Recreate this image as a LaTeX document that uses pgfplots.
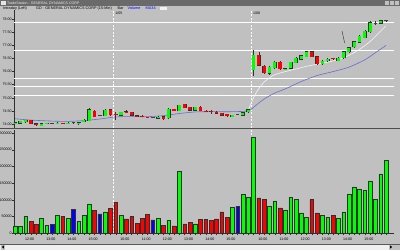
\documentclass[border=0pt]{standalone}
\usepackage{fontspec}
\setmainfont{Liberation Sans}
\usepackage{pgfplots}
\pgfplotsset{compat=1.18}
\usepackage{pgfplotstable}
\definecolor{bg}{HTML}{C0C0C0}
\definecolor{cgreen}{HTML}{00FF00}
\definecolor{cred}{HTML}{FF0000}
\definecolor{cblue}{HTML}{0000FF}
\definecolor{maline}{HTML}{6A6AD0}
\definecolor{titlebar}{HTML}{6A6A6A}
\definecolor{outl}{HTML}{303030}
\definecolor{doji}{HTML}{404040}
\newcommand\tf{\fontsize{3.8}{4.2}\selectfont}

\pgfplotstableread{
i o h l c
1 74.01 74.07 74.00 74.05
2 74.02 74.12 74.00 74.10
3 74.07 74.17 74.05 74.15
6 73.94 74.03 73.92 74.01
7 74.01 74.05 73.99 74.03
9 74.02 74.06 74.01 74.04
11 74.02 74.06 74.01 74.04
13 74.03 74.06 73.97 74.05
14 74.08 74.18 74.06 74.16
15 74.12 74.62 74.10 74.55
18 74.32 74.56 74.30 74.53
21 74.33 74.47 74.31 74.44
28 74.21 74.29 74.19 74.27
30 74.22 74.60 74.20 74.57
32 74.51 74.74 74.49 74.71
35 74.52 74.66 74.50 74.64
42 74.27 74.36 74.25 74.34
44 74.33 74.45 74.31 74.43
45 74.45 74.58 74.43 74.55
46 76.06 76.82 75.83 76.62
49 75.93 76.20 75.88 76.16
50 76.14 76.40 76.10 76.35
52 76.09 76.14 76.07 76.11
53 76.12 76.38 76.10 76.35
54 76.34 76.54 76.32 76.51
55 76.47 76.64 76.45 76.61
56 76.57 76.80 76.55 76.76
59 76.29 76.43 76.27 76.40
60 76.40 76.50 76.38 76.47
62 76.42 76.54 76.40 76.51
63 76.51 76.79 76.49 76.76
64 76.74 76.94 76.72 76.91
65 76.93 77.17 76.91 77.14
66 77.12 77.39 77.10 77.36
67 77.29 77.58 77.27 77.55
68 77.52 77.93 77.48 77.87
70 77.84 77.97 77.82 77.95
}\candG

\pgfplotstableread{
i o h l c
4 74.15 74.17 73.99 74.01
5 74.01 74.03 73.94 73.96
10 74.04 74.05 74.00 74.02
16 74.50 74.52 74.26 74.28
19 74.55 74.58 74.32 74.34
20 74.38 74.46 74.15 74.36
22 74.47 74.52 74.43 74.45
23 74.44 74.46 74.31 74.33
24 74.32 74.34 74.26 74.28
25 74.31 74.33 74.25 74.27
26 74.26 74.28 74.22 74.24
29 74.28 74.30 74.14 74.20
31 74.57 74.59 74.48 74.50
33 74.75 74.77 74.60 74.62
34 74.64 74.66 74.50 74.52
36 74.65 74.67 74.49 74.51
37 74.50 74.52 74.44 74.48
38 74.48 74.52 74.40 74.46
39 74.46 74.48 74.39 74.41
40 74.41 74.43 74.31 74.33
41 74.37 74.39 74.28 74.30
47 76.62 76.74 76.20 76.24
48 76.21 76.26 75.90 75.96
51 76.37 76.40 76.06 76.09
57 76.76 76.78 76.55 76.57
58 76.57 76.59 76.27 76.29
61 76.50 76.53 76.46 76.48
}\candR

\pgfplotstableread{
i o h l c
8 74.03 74.05 74.01 74.03
12 74.04 74.05 74.02 74.04
17 74.32 74.35 74.29 74.32
27 74.24 74.26 74.22 74.24
43 74.37 74.40 74.34 74.37
69 77.84 77.92 77.76 77.84
71 77.94 77.98 77.90 77.94
}\candD

\pgfplotstableread{
i v
1 22000
2 20000
3 50000
6 45000
7 23000
9 53000
11 45000
13 36000
14 54000
15 88000
18 64000
21 54000
28 45000
30 39000
32 186000
35 28000
42 77000
44 117000
45 108000
46 288000
49 82000
50 97000
52 70000
53 107000
54 101000
55 61000
56 48000
59 54000
60 48000
62 45000
63 64000
64 118000
65 139000
66 133000
67 129000
68 157000
69 102000
70 178000
71 219000
}\volG

\pgfplotstableread{
i v
4 36000
5 27000
10 51000
16 69000
19 74000
20 92000
22 43000
23 50000
24 30000
25 44000
26 56000
29 23000
31 22000
33 28000
34 32000
36 42000
37 42000
38 38000
39 43000
40 64000
41 48000
47 106000
48 102000
51 76000
57 101000
58 61000
61 54000
}\volR

\pgfplotstableread{
i v
8 26000
12 71000
17 58000
27 40000
43 81000
}\volB

\newcommand\wicks[1]{%
 \addplot[draw=none, mark=none, forget plot,
   error bars/.cd, y dir=plus, y explicit, error mark=none,
   error bar style={line width=0.5pt, draw=outl, line cap=butt}]
   table[x=i, y=l, y error plus expr={\thisrow{h}-\thisrow{l}}] {#1};}
\newcommand\bodies[3]{%
 \addplot[draw=none, mark=none, forget plot,
   error bars/.cd, y dir=plus, y explicit, error mark=none,
   error bar style={line width=#3, draw=#2, line cap=butt}]
   table[x=i, y expr={min(\thisrow{o},\thisrow{c})}, y error plus expr={max(abs(\thisrow{c}-\thisrow{o}),0.02)}] {#1};}
\newcommand\bodyoutline[1]{%
 \addplot[draw=none, mark=none, forget plot,
   error bars/.cd, y dir=plus, y explicit, error mark=none,
   error bar style={line width=3.8pt, draw=outl, line cap=butt}]
   table[x=i, y expr={min(\thisrow{o},\thisrow{c})-0.01}, y error plus expr={max(abs(\thisrow{c}-\thisrow{o}),0.02)+0.02}] {#1};}

\begin{document}
\begin{tikzpicture}[x=1pt,y=1pt]
\useasboundingbox (0,0) rectangle (400,250);
\fill[bg] (0,0) rectangle (400,250);
% title bar
\fill[titlebar] (0,244) rectangle (400,250);
\fill[white!80!gray] (1,245) rectangle (5.5,249.2);
\node[anchor=west, inner sep=0pt, font=\fontsize{3.6}{4}\selectfont, text=white!85!gray] at (7,247) {TradeStation - GENERAL DYNAMICS CORP};
\foreach \bx in {385,390,395}{\fill[bg] (\bx,245) rectangle (\bx+4,249.2);}
% header
\node[anchor=west, inner sep=0pt, font=\tf] at (3,241.5) {Intraday (Left)};
\node[anchor=west, inner sep=0pt, font=\tf] at (36,241.5) {GD - GENERAL DYNAMICS CORP (15-Min)};
\node[anchor=west, inner sep=0pt, font=\tf] at (117.5,241.5) {Bar};
\node[anchor=west, inner sep=0pt, font=\tf, text=cblue] at (127.5,241.5) {Volume};
\node[anchor=west, inner sep=0pt, font=\tf, text=cblue] at (145.5,241.5) {MA34};
\fill[white!90!gray] (160,240) rectangle (167,243);
% scroll bar
\fill[white!88!gray] (0,0) rectangle (400,6);
\draw[gray!70!black, line width=0.3pt] (0,6) -- (400,6);
\fill[bg] (0.5,0.5) rectangle (5,5.5);
\fill[black] (1.8,3) -- (3.8,4.5) -- (3.8,1.5) -- cycle;
\fill[bg] (389,0.5) rectangle (393.5,5.5);
\fill[black] (392.2,3) -- (390.2,4.5) -- (390.2,1.5) -- cycle;
\fill[bg] (394,0.5) rectangle (399.5,5.5);

% ===== price panel =====
\begin{axis}[at={(14pt,122pt)}, anchor=south west, scale only axis,
  width=380pt, height=118pt,
  xmin=0.811, xmax=72.51, ymin=73.847, ymax=78.351,
  axis x line=none, axis y line*=left,
  axis line style={draw=outl, line width=0.5pt},
  ytick={74,74.5,75,75.5,76,76.5,77,77.5,78},
  yticklabels={74.00,74.50,75.00,75.50,76.00,76.50,77.00,77.50,78.00},
  yticklabel style={font=\fontsize{3.6}{4}\selectfont, inner sep=0.6pt},
  tick align=outside, major tick length=1.5pt, tick style={draw=outl, line width=0.4pt},
  clip=true]
% level lines
\addplot[white, line width=0.55pt, forget plot] coordinates {(0.811,77.87) (72.51,77.87)};
\addplot[white, line width=0.55pt, forget plot] coordinates {(0.811,76.80) (72.51,76.80)};
\addplot[white, line width=0.55pt, forget plot] coordinates {(0.811,75.76) (72.51,75.76)};
\addplot[white, line width=0.55pt, forget plot] coordinates {(0.811,75.43) (72.51,75.43)};
\addplot[white, line width=0.55pt, forget plot] coordinates {(0.811,75.11) (72.51,75.11)};
% day separators
\addplot[white, line width=0.5pt, dash pattern=on 2pt off 1.5pt, forget plot] coordinates {(19.5,73.847) (19.5,78.351)};
\addplot[white, line width=0.5pt, dash pattern=on 2pt off 1.5pt, forget plot] coordinates {(45.5,73.847) (45.5,78.351)};
\node[anchor=north west, inner sep=0.5pt, font=\fontsize{3.6}{4}\selectfont] at (axis cs:19.8,78.30) {1/05};
\node[anchor=north west, inner sep=0.5pt, font=\fontsize{3.6}{4}\selectfont] at (axis cs:45.8,78.30) {1/08};
% white curve
\addplot[white!92!gray, line width=0.6pt, smooth, forget plot] coordinates {
(45,74.52) (46,75.00) (47,75.35) (48,75.60) (49,75.76) (50,75.88) (52,76.00) (54,76.10) (56,76.20) (58,76.28) (60,76.36) (62,76.46) (64,76.62) (66,76.85) (68,77.15) (70,77.55) (71,77.75)};
% MA34
\addplot[maline, line width=0.6pt, smooth, forget plot] coordinates {
(1,74.20) (4,74.15) (8,74.11) (11,74.10) (14,74.13) (17,74.19) (20,74.27) (23,74.28) (26,74.28) (29,74.32) (32,74.40) (35,74.46) (38,74.47) (42,74.47) (45,74.50) (46,74.64) (48,74.95) (50,75.18) (52,75.34) (55,75.62) (58,75.85) (61,76.00) (64,76.17) (67,76.45) (69,76.72) (71,77.00)};
% candles
\wicks{\candG}
\wicks{\candR}
\wicks{\candD}
\bodyoutline{\candG}
\bodyoutline{\candR}
\bodies{\candG}{cgreen}{3.1pt}
\bodies{\candR}{cred}{3.1pt}
\bodies{\candD}{doji}{3.6pt}
% annotation
\draw[outl, line width=0.4pt] (axis cs:62.7,77.55) -- (axis cs:63.2,77.09);
\end{axis}

% panel separator
\draw[gray!60!black, line width=0.9pt] (0,121.6) -- (400,121.6);

% ===== volume panel =====
\begin{axis}[at={(14pt,16.7pt)}, anchor=south west, scale only axis,
  width=380pt, height=103.3pt,
  xmin=0.811, xmax=72.51, ymin=0, ymax=309000,
  axis x line*=bottom, axis y line*=left,
  axis line style={draw=outl, line width=0.5pt},
  ytick={0,50000,100000,150000,200000,250000,300000},
  yticklabels={0,50000,100000,150000,200000,250000,300000},
  scaled y ticks=false,
  xtick={3.75,7.75,11.75,15.75,21.75,25.75,29.75,33.75,37.75,41.75,47.75,51.75,55.75,59.75,63.75,67.75},
  xticklabels={12:00,13:00,14:00,15:00,10:00,11:00,12:00,13:00,14:00,15:00,10:00,11:00,12:00,13:00,14:00,15:00},
  minor xtick={1,...,71},
  major x tick style={draw=none},
  yticklabel style={font=\fontsize{3.6}{4}\selectfont, inner sep=0.6pt},
  xticklabel style={font=\fontsize{3.6}{4}\selectfont, inner sep=0pt, yshift=-3pt},
  tick align=outside, major tick length=1.5pt, minor tick length=1.8pt,
  tick style={draw=outl, line width=0.4pt},
  clip=false]
\addplot[white, line width=0.5pt, dash pattern=on 2pt off 1.5pt, forget plot] coordinates {(19.5,0) (19.5,309000)};
\addplot[white, line width=0.5pt, dash pattern=on 2pt off 1.5pt, forget plot] coordinates {(45.5,0) (45.5,309000)};
\addplot[ybar, bar width=3.7pt, bar shift=0pt, fill=cgreen, draw=outl, line width=0.35pt, forget plot] table[x=i,y=v] {\volG};
\addplot[ybar, bar width=3.7pt, bar shift=0pt, fill=cred, draw=outl, line width=0.35pt, forget plot] table[x=i,y=v] {\volR};
\addplot[ybar, bar width=3.7pt, bar shift=0pt, fill=cblue, draw=outl, line width=0.35pt, forget plot] table[x=i,y=v] {\volB};
\end{axis}
\end{tikzpicture}
\end{document}
